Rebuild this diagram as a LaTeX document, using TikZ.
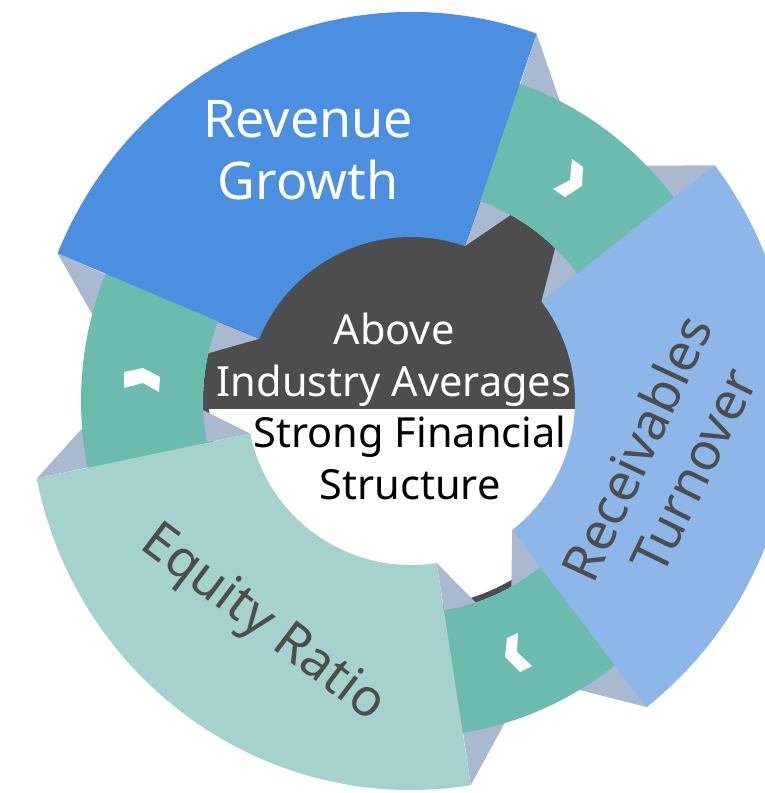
\documentclass[tikz,border=0pt]{standalone}
\usepackage{fontspec}
\setmainfont{Noto Sans}
\definecolor{blueA}{HTML}{4A8FE0}
\definecolor{blueB}{HTML}{8CB7E8}
\definecolor{greenA}{HTML}{A5D2CD}
\definecolor{tealA}{HTML}{6BBCAE}
\definecolor{greyA}{HTML}{A9B9CF}
\definecolor{darkA}{HTML}{4D4D4D}
% annular sector: colour, angle from, angle to, inner rx, inner ry, outer rx, outer ry
\newcommand\annsec[7]{\fill[#1] (-#2:#4 and #5) -- (-#2:#6 and #7) arc[start angle=-#2,end angle=-#3,x radius=#6,y radius=#7] -- (-#3:#4 and #5) arc[start angle=-#3,end angle=-#2,x radius=#4,y radius=#5] -- cycle;}
\tikzset{
  shade3/.style={fill=greyA},
  chev/.style={fill=white},
  bigtxt/.style={font=\fontsize{52}{62}\selectfont, inner sep=0pt},
  midtxt/.style={font=\fontsize{41.5}{48}\selectfont, inner sep=0pt},
}
\begin{document}
\begin{tikzpicture}[x=1pt,y=1pt]
\useasboundingbox (0,0) rectangle (765,793);
\begin{scope}[shift={(0,793)},yscale=-1]
  % centre disk
  \fill[darkA] (411,401) ellipse[x radius=208,y radius=212];
  \begin{scope}
    \clip (0,410) rectangle (765,793);
    \fill[white] (411,401) ellipse[x radius=202,y radius=206];
  \end{scope}
  % named corners
  \begin{scope}[shift={(411,401)}]
    \foreach \n/\a in {b1/70.8, b2/157.7, e1/191.5, e2/279, r1/308.1, r2/397.3} {
      \coordinate (\n o) at (-\a:382 and 389);
      \coordinate (\n i) at (-\a:164);
    }
    \coordinate (b1x) at (-70.8:300);  \coordinate (b1y) at (-70.8:255);
    \coordinate (r2x) at (-397.3:295); \coordinate (r2y) at (-397.3:240);
    \coordinate (b2x) at (-157.7:285); \coordinate (b2y) at (-157.7:250);
    \coordinate (e1x) at (-191.5:275); \coordinate (e1y) at (-191.5:240);
    \coordinate (e2x) at (-279:300);   \coordinate (e2y) at (-279:240);
    \coordinate (r1x) at (-308.1:295); \coordinate (r1y) at (-308.1:240);
  \end{scope}
  % 3D side shades
  \fill[shade3] (b1o) -- (b1x) -- (571,134) -- cycle;
  \fill[shade3] (r2o) -- (610,166) -- (r2x) -- cycle;
  \fill[shade3] (b1i) -- (b1y) -- (540,195) -- cycle;
  \fill[shade3] (r2i) -- (565,210) -- (r2y) -- cycle;
  \fill[shade3] (b2o) -- (b2x) -- (109,344) -- cycle;
  \fill[shade3] (e1o) -- (106,402) -- (e1x) -- cycle;
  \fill[shade3] (b2i) -- (b2y) -- (170,364) -- cycle;
  \fill[shade3] (e1i) -- (175,396) -- (e1y) -- cycle;
  \fill[shade3] (e2o) -- (e2x) -- (520,695) -- cycle;
  \fill[shade3] (r1o) -- (560,685) -- (r1x) -- cycle;
  \fill[shade3] (e2i) -- (490,617) -- (e2y) -- cycle;
  \fill[shade3] (r1i) -- (511,610) -- (r1y) -- cycle;
  % connecting arrows
  \begin{scope}[shift={(411,401)}]
    \annsec{tealA}{30}{78}{208}{212}{330}{336}
    \annsec{tealA}{150}{198}{208}{212}{330}{336}
    \annsec{tealA}{272}{315}{208}{212}{330}{336}
  \end{scope}
  \fill[chev] (572,159) -- (583,167) -- (582,186) -- (565,197) -- (553,189) -- (570,180) -- cycle;
  \fill[chev] (124,372) -- (143,368) -- (160,377) -- (159,392) -- (143,383) -- (124,388) -- cycle;
  \fill[chev] (507,638) -- (518,633) -- (517,652) -- (532,666) -- (520,672) -- (505,657) -- cycle;
  % main segments
  \begin{scope}[shift={(411,401)}]
    \annsec{blueA}{70.8}{157.7}{164}{164}{382}{389}
    \annsec{greenA}{191.5}{279}{164}{164}{382}{389}
    \annsec{blueB}{308.1}{397.3}{164}{164}{382}{389}
  \end{scope}
\end{scope}
% texts
\node[bigtxt, text=white, anchor=base] (rev1) at (308,655) {Revenue};
\node[bigtxt, text=white, anchor=base] (rev2) at (308,593) {Growth};
\node[midtxt, text=white, anchor=base] (ab1) at (394,448) {Above};
\node[midtxt, text=white, anchor=base] (ab2) at (394,396) {Industry Averages};
\node[midtxt, text=black, anchor=base] (st1) at (410,345) {Strong Financial};
\node[midtxt, text=black, anchor=base] (st2) at (410,293) {Structure};
\node[bigtxt, text=darkA, rotate=65] (rc1) at (636,345) {Receivables};
\node[bigtxt, text=darkA, rotate=64] (rc2) at (694,322) {Turnover};
\node[bigtxt, text=darkA, rotate=-37] (eq) at (262,168) {Equity Ratio};
\end{tikzpicture}
\end{document}
